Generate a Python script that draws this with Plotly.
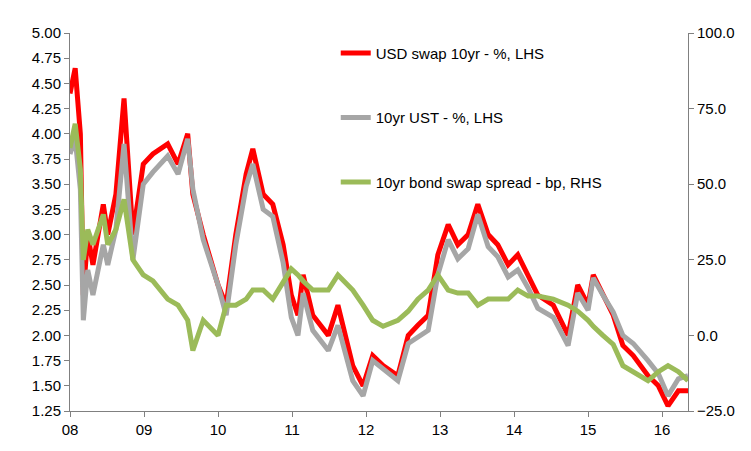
import plotly.graph_objects as go

# decimal year (08 = 2008)
years = [8.00, 8.07, 8.14, 8.18, 8.24, 8.31, 8.45, 8.51, 8.62, 8.73, 8.85, 8.99, 9.12, 9.32, 9.46, 9.59,
         9.66, 9.80, 10.00, 10.11, 10.24, 10.38, 10.47, 10.61, 10.74, 10.88, 10.99, 11.08, 11.15, 11.28,
         11.49, 11.62, 11.82, 11.96, 12.09, 12.23, 12.43, 12.57, 12.70, 12.84, 12.97, 13.11, 13.24, 13.38,
         13.51, 13.65, 13.78, 13.92, 14.05, 14.19, 14.32, 14.53, 14.73, 14.86, 15.00, 15.07, 15.20, 15.34,
         15.47, 15.61, 15.81, 15.95, 16.08, 16.22, 16.35]
swap10 = [4.40, 4.65, 4.00, 2.40, 3.00, 2.70, 3.30, 3.00, 3.40, 4.35, 3.00, 3.70, 3.80, 3.90, 3.70, 4.00,
          3.40, 3.00, 2.50, 2.30, 3.00, 3.60, 3.85, 3.40, 3.30, 2.90, 2.40, 2.20, 2.60, 2.20, 2.00, 2.30,
          1.70, 1.50, 1.80, 1.70, 1.60, 2.00, 2.10, 2.20, 2.80, 3.10, 2.90, 3.00, 3.30, 3.00, 2.90, 2.70,
          2.80, 2.60, 2.40, 2.30, 2.00, 2.50, 2.30, 2.60, 2.40, 2.20, 1.90, 1.80, 1.60, 1.50, 1.30, 1.45, 1.45]
ust10 = [3.80, 3.95, 3.45, 2.15, 2.65, 2.40, 2.90, 2.70, 3.05, 3.90, 2.75, 3.50, 3.62, 3.78, 3.60, 3.95,
         3.45, 2.95, 2.50, 2.20, 2.90, 3.48, 3.70, 3.25, 3.18, 2.72, 2.18, 2.00, 2.42, 2.05, 1.85, 2.10,
         1.55, 1.40, 1.75, 1.67, 1.55, 1.92, 1.98, 2.05, 2.60, 2.95, 2.76, 2.86, 3.20, 2.88, 2.78, 2.58,
         2.65, 2.47, 2.27, 2.18, 1.90, 2.42, 2.25, 2.57, 2.40, 2.23, 2.00, 1.92, 1.75, 1.62, 1.40, 1.57, 1.60]
spread = [62, 70, 55, 25, 35, 30, 40, 30, 35, 45, 25, 20, 18, 12, 10, 5, -5, 5, 0, 10, 10, 12, 15, 15, 12,
          18, 22, 20, 18, 15, 15, 20, 15, 10, 5, 3, 5, 8, 12, 15, 20, 15, 14, 14, 10, 12, 12, 12, 15, 13,
          13, 12, 10, 8, 5, 3, 0, -3, -10, -12, -15, -12, -10, -12, -15]
year_ticks = [8, 9, 10, 11, 12, 13, 14, 15, 16]
year_labels = ['08', '09', '10', '11', '12', '13', '14', '15', '16']

fig = go.Figure()
fig.add_trace(go.Scatter(x=years, y=swap10, mode='lines', name='USD swap 10yr - %, LHS', legendgroup='a',
                         line=dict(color='#ff0000', width=5)))
fig.add_trace(go.Scatter(x=years, y=ust10, mode='lines', name='10yr UST - %, LHS', legendgroup='b',
                         line=dict(color='#a6a6a6', width=5)))
fig.add_trace(go.Scatter(x=years, y=spread, mode='lines', name='10yr bond swap spread - bp, RHS',
                         legendgroup='c', line=dict(color='#9bbb59', width=5), yaxis='y2'))

fig.update_layout(
    width=751, height=451, plot_bgcolor='white', paper_bgcolor='white',
    margin=dict(l=62, r=71, t=25, b=48),
    font=dict(family='Liberation Sans, Arial', size=15, color='black'),
    xaxis=dict(range=[8, 16.35], tickvals=year_ticks, ticktext=year_labels, showgrid=False,
               showline=True, linecolor='#808080', ticks='outside', ticklen=5, tickcolor='#808080'),
    yaxis=dict(range=[1.25, 5.0], dtick=0.25, tickformat='.2f', showgrid=False,
               showline=True, linecolor='#808080', ticks='outside', ticklen=5, tickcolor='#808080'),
    yaxis2=dict(range=[-25, 100], dtick=25, tickformat='.1f', overlaying='y', side='right',
                showgrid=False, showline=True, linecolor='#808080', ticks='outside', ticklen=5,
                tickcolor='#808080'),
    legend=dict(x=0.43, y=0.99, xanchor='left', yanchor='top', bgcolor='rgba(0,0,0,0)',
                tracegroupgap=42, font=dict(size=15)),
    showlegend=True,
)
fig.write_html("out.html")
